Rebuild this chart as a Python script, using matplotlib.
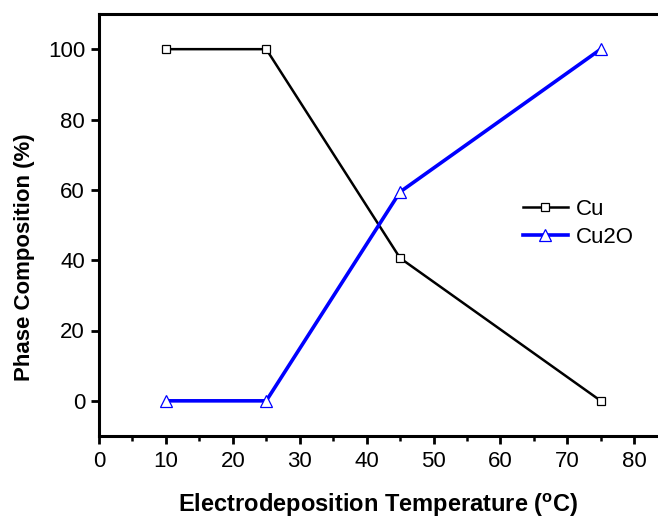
import matplotlib
matplotlib.use("Agg")
import matplotlib.pyplot as plt
from matplotlib.ticker import MultipleLocator

temps = [10, 25, 45, 75]
cu = [100, 100, 40.6, 0]
cu2o = [0, 0, 59.4, 100]
xticks = [0, 10, 20, 30, 40, 50, 60, 70, 80]
yticks = [0, 20, 40, 60, 80, 100]

plt.rcParams['font.family'] = ['Liberation Sans', 'DejaVu Sans']

fig = plt.figure(figsize=(6.58, 5.18), dpi=100)
ax = fig.add_axes([99/658, 82/518, 1 - 99/658, 422/518])

ax.plot(temps, cu, color='black', lw=1.8, marker='s', ms=6.3, mfc='white',
        mec='black', mew=0.9, label='Cu')
ax.plot(temps, cu2o, color='#0000ff', lw=2.6, marker='^', ms=8, mfc='white',
        mec='#0000ff', mew=0.9, label='Cu2O')

ax.set_xlim(0, 559/6.69)
ax.set_ylim(-10, 110)
ax.set_xticks(xticks)
ax.set_yticks(yticks)
ax.xaxis.set_minor_locator(MultipleLocator(5))
ax.tick_params(axis='both', which='major', direction='out', length=6, width=2.0,
               labelsize=16)
ax.tick_params(axis='y', which='major', pad=4)
ax.tick_params(axis='x', which='major', pad=5)
ax.tick_params(axis='x', which='minor', direction='out', length=3.5, width=1.8)
ax.tick_params(axis='y', which='minor', left=False)
for s in ['left', 'bottom', 'top']:
    ax.spines[s].set_linewidth(2.2)
ax.spines['right'].set_visible(False)

ax.set_xlabel('Electrodeposition Temperature ($\\mathregular{^{o}}$C)',
              fontsize=17, fontweight='bold', labelpad=14)
ax.set_ylabel('Phase Composition (%)', fontsize=16, fontweight='bold')
ax.yaxis.set_label_coords(-0.114, 0.424)

ax.legend(loc='center left', bbox_to_anchor=(0.739, 0.504), frameon=False,
          fontsize=16, handlelength=2.0, labelspacing=0.3, handletextpad=0.35,
          borderpad=0)

fig.savefig('out.png', dpi=100)
